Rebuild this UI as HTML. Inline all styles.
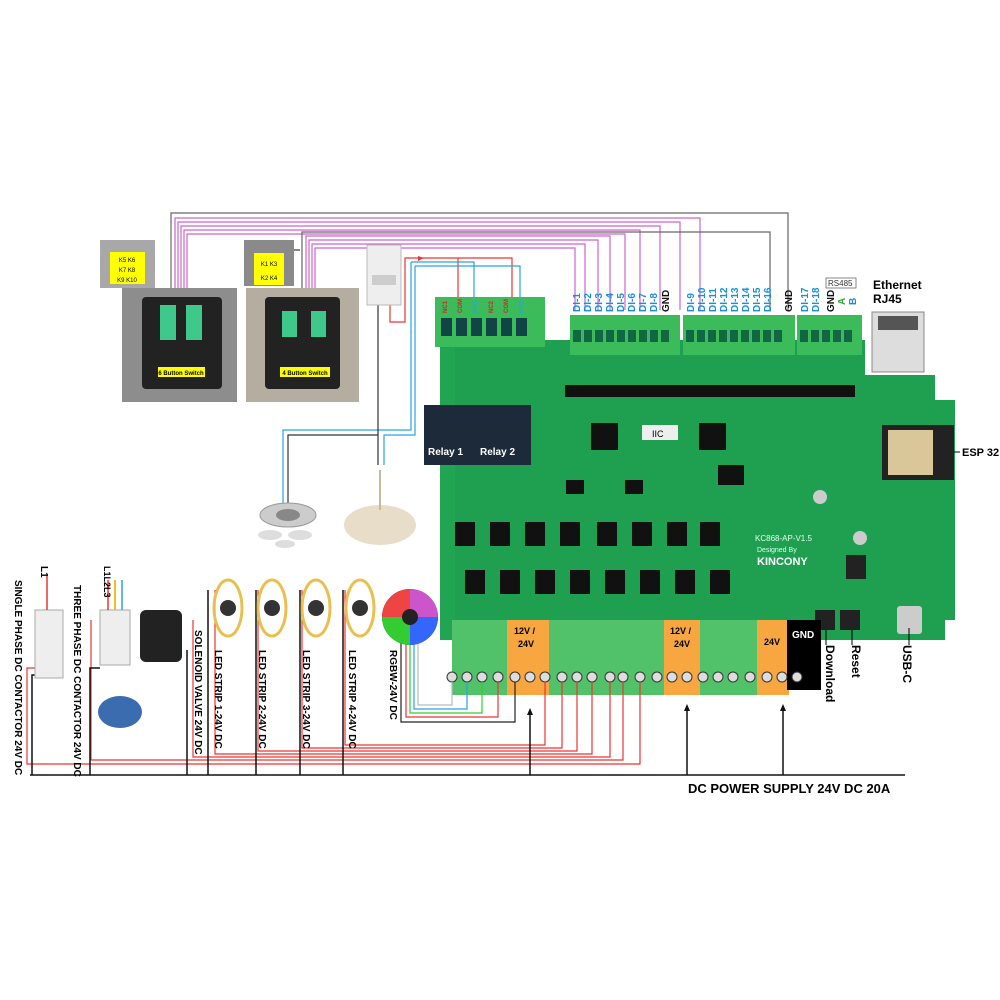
<!DOCTYPE html>
<html><head><meta charset="utf-8"><style>
html,body{margin:0;padding:0;background:#fff}
svg{display:block}
text{font-family:"Liberation Sans",sans-serif}
</style></head><body>
<svg width="1000" height="1000" viewBox="0 0 1000 1000" xmlns="http://www.w3.org/2000/svg">
<rect width="1000" height="1000" fill="#fff"/>

<!-- top wires from switches to DI -->
<g fill="none" stroke-width="1.2">
<path d="M171,345 V213 H788 V310" stroke="#666"/>
<path d="M175,345 V218 H700 V310" stroke="#cc66cc"/>
<path d="M178,345 V222 H680 V310" stroke="#cc66cc"/>
<path d="M181,345 V226 H660 V310" stroke="#cc66cc"/>
<path d="M184,345 V230 H640 V310" stroke="#cc66cc"/>
<path d="M187,345 V234 H625 V310" stroke="#cc66cc"/>
<path d="M302,330 V232 H770 V310" stroke="#666"/>
<path d="M306,330 V236 H610 V310" stroke="#cc66cc"/>
<path d="M309,330 V240 H598 V310" stroke="#cc66cc"/>
<path d="M312,330 V244 H585 V310" stroke="#cc66cc"/>
<path d="M315,330 V248 H575 V310" stroke="#cc66cc"/>
<path d="M285,250 H300" stroke="#333"/>
<!-- relay wires -->
<path d="M390,300 V322 H405 V258 H512 V300" stroke="#e33"/>
<path d="M458,258 V300" stroke="#e33"/>
<path d="M411,262 H474 V300" stroke="#29a3e0"/>
<path d="M411,262 V430 H283 V505" stroke="#29a3e0"/>
<path d="M415,266 H520 V300" stroke="#29a3e0"/>
<path d="M415,266 V435 H384 V465" stroke="#29a3e0"/>
<path d="M378,300 V465" stroke="#333"/>
<path d="M378,435 H288 V505" stroke="#333"/>
</g>
<polygon points="418,256 424,258 418,261" fill="#e33"/>

<!-- switches -->
<rect x="100" y="240" width="55" height="48" fill="#a8a8a8"/>
<rect x="110" y="252" width="35" height="32" fill="#ff0"/>
<text x="127" y="262" font-size="6" text-anchor="middle">K5 K6</text>
<text x="127" y="272" font-size="6" text-anchor="middle">K7 K8</text>
<text x="127" y="282" font-size="6" text-anchor="middle">K9 K10</text>
<rect x="122" y="288" width="115" height="114" fill="#8d8d8d"/>
<rect x="142" y="297" width="80" height="92" fill="#222" rx="4"/>
<rect x="160" y="305" width="16" height="35" fill="#3ec98a"/>
<rect x="186" y="305" width="16" height="35" fill="#3ec98a"/>
<rect x="158" y="367" width="47" height="10" fill="#ff0"/>
<text x="181" y="375" font-size="6" text-anchor="middle" font-weight="bold">6 Button Switch</text>

<rect x="244" y="240" width="50" height="46" fill="#8a8a8a"/>
<rect x="254" y="253" width="30" height="32" fill="#ff0"/>
<text x="269" y="266" font-size="6" text-anchor="middle">K1 K3</text>
<text x="269" y="280" font-size="6" text-anchor="middle">K2 K4</text>
<rect x="246" y="288" width="113" height="114" fill="#b5ada0"/>
<rect x="265" y="297" width="75" height="92" fill="#222" rx="4"/>
<rect x="282" y="311" width="15" height="26" fill="#3ec98a"/>
<rect x="311" y="311" width="15" height="26" fill="#3ec98a"/>
<rect x="280" y="367" width="50" height="10" fill="#ff0"/>
<text x="305" y="375" font-size="6" text-anchor="middle" font-weight="bold">4 Button Switch</text>

<!-- breaker -->
<rect x="367" y="245" width="34" height="60" fill="#eee" stroke="#bbb"/>
<rect x="372" y="275" width="24" height="10" fill="#ccc"/>

<!-- downlight / chandelier -->
<ellipse cx="288" cy="515" rx="28" ry="12" fill="#ccc" stroke="#999"/>
<ellipse cx="288" cy="515" rx="12" ry="6" fill="#888"/>
<ellipse cx="270" cy="535" rx="12" ry="5" fill="#ddd"/>
<ellipse cx="300" cy="535" rx="12" ry="5" fill="#ddd"/>
<ellipse cx="285" cy="544" rx="10" ry="4" fill="#ddd"/>
<ellipse cx="380" cy="525" rx="36" ry="20" fill="#e8ddc8"/>
<path d="M380,470 V510" stroke="#c9b89a" stroke-width="2"/>

<!-- board body -->
<path d="M455,340 H865 V375 H935 V400 H955 V620 H945 V640 H455 Z" fill="#1fa050"/>
<path d="M440,345 H455 V640 H440 Z" fill="#22a552"/>
<!-- relay terminal block -->
<rect x="435" y="297" width="110" height="50" fill="#3bbb5a"/>
<g fill="#144">
<rect x="441" y="318" width="11" height="18"/><rect x="456" y="318" width="11" height="18"/><rect x="471" y="318" width="11" height="18"/><rect x="486" y="318" width="11" height="18"/><rect x="501" y="318" width="11" height="18"/><rect x="516" y="318" width="11" height="18"/>
</g>
<!-- DI terminal blocks -->
<rect x="570" y="315" width="110" height="40" fill="#3bbb5a"/>
<rect x="683" y="315" width="112" height="40" fill="#3bbb5a"/>
<rect x="797" y="315" width="65" height="40" fill="#3bbb5a"/>
<g fill="#164" >
<rect x="573" y="330" width="8" height="12"/><rect x="584" y="330" width="8" height="12"/><rect x="595" y="330" width="8" height="12"/><rect x="606" y="330" width="8" height="12"/><rect x="617" y="330" width="8" height="12"/><rect x="628" y="330" width="8" height="12"/><rect x="639" y="330" width="8" height="12"/><rect x="650" y="330" width="8" height="12"/><rect x="661" y="330" width="8" height="12"/>
<rect x="686" y="330" width="8" height="12"/><rect x="697" y="330" width="8" height="12"/><rect x="708" y="330" width="8" height="12"/><rect x="719" y="330" width="8" height="12"/><rect x="730" y="330" width="8" height="12"/><rect x="741" y="330" width="8" height="12"/><rect x="752" y="330" width="8" height="12"/><rect x="763" y="330" width="8" height="12"/><rect x="774" y="330" width="8" height="12"/>
<rect x="800" y="330" width="8" height="12"/><rect x="811" y="330" width="8" height="12"/><rect x="822" y="330" width="8" height="12"/><rect x="833" y="330" width="8" height="12"/><rect x="844" y="330" width="8" height="12"/>
</g>
<!-- DI labels -->
<g font-size="10" fill="#1a8fd8" font-weight="bold">
<text transform="translate(580,312) rotate(-90)">DI-1</text>
<text transform="translate(591,312) rotate(-90)">DI-2</text>
<text transform="translate(602,312) rotate(-90)">DI-3</text>
<text transform="translate(613,312) rotate(-90)">DI-4</text>
<text transform="translate(624,312) rotate(-90)">DI-5</text>
<text transform="translate(635,312) rotate(-90)">DI-6</text>
<text transform="translate(646,312) rotate(-90)">DI-7</text>
<text transform="translate(657,312) rotate(-90)">DI-8</text>
<text transform="translate(694,312) rotate(-90)">DI-9</text>
<text transform="translate(705,312) rotate(-90)">DI-10</text>
<text transform="translate(716,312) rotate(-90)">DI-11</text>
<text transform="translate(727,312) rotate(-90)">DI-12</text>
<text transform="translate(738,312) rotate(-90)">DI-13</text>
<text transform="translate(749,312) rotate(-90)">DI-14</text>
<text transform="translate(760,312) rotate(-90)">DI-15</text>
<text transform="translate(771,312) rotate(-90)">DI-16</text>
<text transform="translate(808,312) rotate(-90)">DI-17</text>
<text transform="translate(819,312) rotate(-90)">DI-18</text>
<text transform="translate(856,305) rotate(-90)">B</text>
</g>
<text transform="translate(845,305) rotate(-90)" font-size="10" fill="#3a3" font-weight="bold">A</text>
<g font-size="10" fill="#111" font-weight="bold">
<text transform="translate(669,312) rotate(-90)">GND</text>
<text transform="translate(792,312) rotate(-90)">GND</text>
<text transform="translate(834,312) rotate(-90)">GND</text>
</g>
<rect x="826" y="278" width="30" height="10" fill="none" stroke="#555" stroke-width="0.7"/>
<text x="828" y="286" font-size="8" fill="#333">RS485</text>
<g font-size="6" fill="#d22" font-weight="bold">
<text transform="translate(447,313) rotate(-90)">NC1</text>
<text transform="translate(462,313) rotate(-90)">COM</text>
<text transform="translate(493,313) rotate(-90)">NC2</text>
<text transform="translate(508,313) rotate(-90)">COM</text>
</g>
<g font-size="6" fill="#29a3e0" font-weight="bold">
<text transform="translate(477,313) rotate(-90)">NO1</text>
<text transform="translate(523,313) rotate(-90)">NO2</text>
</g>

<!-- optocoupler rows -->
<g fill="#111">
<rect x="565" y="385" width="290" height="12"/>
</g>
<!-- ethernet -->
<rect x="872" y="312" width="52" height="60" fill="#ddd" stroke="#888"/>
<rect x="878" y="316" width="40" height="14" fill="#555"/>
<text x="873" y="289" font-size="12" font-weight="bold">Ethernet</text>
<text x="873" y="303" font-size="12" font-weight="bold">RJ45</text>
<!-- ESP32 -->
<rect x="882" y="425" width="72" height="55" fill="#222"/>
<rect x="888" y="430" width="45" height="45" fill="#d9c79a"/>
<path d="M954,452 H960" stroke="#000"/>
<text x="962" y="456" font-size="11" font-weight="bold">ESP 32</text>
<!-- relays -->
<rect x="424" y="405" width="52" height="60" fill="#1c2a3a"/>
<rect x="476" y="405" width="55" height="60" fill="#1c2a3a"/>
<text x="428" y="455" font-size="10" fill="#fff" font-weight="bold">Relay 1</text>
<text x="480" y="455" font-size="10" fill="#fff" font-weight="bold">Relay 2</text>
<!-- ICs -->
<rect x="591" y="423" width="27" height="27" fill="#111"/>
<rect x="699" y="423" width="27" height="27" fill="#111"/>
<rect x="642" y="425" width="36" height="15" fill="#eee"/>
<text x="652" y="437" font-size="9">IIC</text>
<rect x="718" y="465" width="26" height="20" fill="#111"/>
<rect x="566" y="480" width="18" height="14" fill="#111"/>
<rect x="625" y="480" width="18" height="14" fill="#111"/>
<circle cx="820" cy="497" r="7" fill="#ccc"/>
<rect x="846" y="555" width="20" height="24" fill="#222"/>
<circle cx="860" cy="538" r="7" fill="#ccc"/>
<text x="755" y="541" font-size="8" fill="#dfe">KC868-AP-V1.5</text>
<text x="757" y="552" font-size="7" fill="#dfe">Designed By</text>
<text x="757" y="565" font-size="11" fill="#fff" font-weight="bold">KINCONY</text>
<!-- mosfets -->
<g fill="#111">
<rect x="455" y="522" width="20" height="24"/><rect x="490" y="522" width="20" height="24"/><rect x="525" y="522" width="20" height="24"/><rect x="560" y="522" width="20" height="24"/><rect x="597" y="522" width="20" height="24"/><rect x="632" y="522" width="20" height="24"/><rect x="667" y="522" width="20" height="24"/><rect x="700" y="522" width="20" height="24"/>
<rect x="465" y="570" width="20" height="24"/><rect x="500" y="570" width="20" height="24"/><rect x="535" y="570" width="20" height="24"/><rect x="570" y="570" width="20" height="24"/><rect x="605" y="570" width="20" height="24"/><rect x="640" y="570" width="20" height="24"/><rect x="675" y="570" width="20" height="24"/><rect x="710" y="570" width="20" height="24"/>
</g>
<!-- USB & buttons -->
<rect x="897" y="606" width="25" height="28" fill="#ccc" rx="3"/>
<rect x="815" y="610" width="20" height="20" fill="#222"/>
<rect x="840" y="610" width="20" height="20" fill="#222"/>

<!-- bottom terminal -->
<rect x="452" y="620" width="335" height="75" fill="#52c26a"/>
<rect x="507" y="620" width="42" height="75" fill="#f7a640"/>
<rect x="664" y="620" width="36" height="75" fill="#f7a640"/>
<rect x="757" y="620" width="32" height="75" fill="#f7a640"/>
<rect x="787" y="620" width="34" height="70" fill="#000"/>
<text x="514" y="634" font-size="9" font-weight="bold">12V /</text>
<text x="518" y="647" font-size="9" font-weight="bold">24V</text>
<text x="670" y="634" font-size="9" font-weight="bold">12V /</text>
<text x="674" y="647" font-size="9" font-weight="bold">24V</text>
<text x="764" y="645" font-size="9" font-weight="bold">24V</text>
<text x="792" y="638" font-size="10" fill="#fff" font-weight="bold">GND</text>
<g fill="#ddd" stroke="#333" stroke-width="1">
<circle cx="452" cy="677" r="5"/><circle cx="467" cy="677" r="5"/><circle cx="482" cy="677" r="5"/><circle cx="498" cy="677" r="5"/><circle cx="515" cy="677" r="5"/><circle cx="530" cy="677" r="5"/><circle cx="545" cy="677" r="5"/><circle cx="562" cy="677" r="5"/><circle cx="577" cy="677" r="5"/><circle cx="592" cy="677" r="5"/><circle cx="610" cy="677" r="5"/><circle cx="623" cy="677" r="5"/><circle cx="640" cy="677" r="5"/><circle cx="657" cy="677" r="5"/><circle cx="672" cy="677" r="5"/><circle cx="687" cy="677" r="5"/><circle cx="703" cy="677" r="5"/><circle cx="718" cy="677" r="5"/><circle cx="733" cy="677" r="5"/><circle cx="750" cy="677" r="5"/><circle cx="767" cy="677" r="5"/><circle cx="782" cy="677" r="5"/><circle cx="797" cy="677" r="5"/>
</g>
<g font-size="12" font-weight="bold">
<text transform="translate(826,645) rotate(90)">Download</text>
<text transform="translate(852,645) rotate(90)">Reset</text>
<text transform="translate(903,645) rotate(90)">USB-C</text>
</g>
<path d="M826,630 V645 M852,630 V645 M909,628 V645" stroke="#000"/>

<!-- RGBW wires -->
<g fill="none" stroke-width="1.2">
<path d="M452,682 V705 H418 V620" stroke="#bbb"/>
<path d="M467,682 V709 H414 V620" stroke="#29a3e0"/>
<path d="M482,682 V713 H410 V620" stroke="#3c3"/>
<path d="M498,682 V717 H406 V620" stroke="#e33"/>
<path d="M515,682 V722 H401 V620" stroke="#222"/>
</g>
<!-- load wires red -->
<g fill="none" stroke="#e33" stroke-width="1.2">
<path d="M545,682 V745 H345 V590"/>
<path d="M562,682 V748 H302 V590"/>
<path d="M577,682 V751 H258 V590"/>
<path d="M592,682 V754 H215 V590"/>
<path d="M610,682 V757 H193 V620"/>
<path d="M623,682 V760 H91 V620"/>
<path d="M640,682 V764 H27 V668 H37"/>
</g>
<!-- power bus -->
<g fill="none" stroke="#111" stroke-width="1.5">
<path d="M30,775 H905"/>
<path d="M530,775 V712 M687,775 V708 M783,775 V708"/>
<path d="M32,775 V675 H40 M90,775 V668 H100 M187,775 V650 M208,775 V590 M256,775 V590 M300,775 V590 M343,775 V590"/>
</g>
<polygon points="530,708 527,715 533,715" fill="#111"/>
<polygon points="687,704 684,711 690,711" fill="#111"/>
<polygon points="783,704 780,711 786,711" fill="#111"/>
<text x="688" y="793" font-size="13" font-weight="bold">DC POWER SUPPLY 24V DC 20A</text>

<!-- bottom-left devices -->
<rect x="35" y="610" width="28" height="68" fill="#eee" stroke="#aaa"/>
<path d="M47,575 V610" stroke="#e33" stroke-width="1.5"/>
<text transform="translate(41,566) rotate(90)" font-size="10" font-weight="bold">L1</text>
<rect x="100" y="610" width="30" height="55" fill="#eee" stroke="#aaa"/>
<path d="M108,580 V610 M115,580 V610" stroke="#e33" stroke-width="1.5"/><path d="M115,580 V610" stroke="#ec0" stroke-width="1.5"/><path d="M122,580 V610" stroke="#29a3e0" stroke-width="1.5"/>
<text transform="translate(104,566) rotate(90)" font-size="9" font-weight="bold">L1L2L3</text>
<ellipse cx="120" cy="712" rx="22" ry="16" fill="#3c6cb0"/>
<rect x="140" y="610" width="42" height="52" fill="#222" rx="6"/>
<g fill="none" stroke="#e8c050" stroke-width="3">
<ellipse cx="228" cy="608" rx="14" ry="28"/>
<ellipse cx="272" cy="608" rx="14" ry="28"/>
<ellipse cx="316" cy="608" rx="14" ry="28"/>
<ellipse cx="360" cy="608" rx="14" ry="28"/>
</g>
<g fill="#333"><circle cx="228" cy="608" r="8"/><circle cx="272" cy="608" r="8"/><circle cx="316" cy="608" r="8"/><circle cx="360" cy="608" r="8"/></g>
<circle cx="410" cy="617" r="28" fill="#222"/>
<path d="M410,589 A28,28 0 0 1 438,617 L410,617Z" fill="#c5c"/>
<path d="M382,617 A28,28 0 0 1 410,589 L410,617Z" fill="#e44"/>
<path d="M410,645 A28,28 0 0 1 382,617 L410,617Z" fill="#3c3"/>
<path d="M438,617 A28,28 0 0 1 410,645 L410,617Z" fill="#36f"/>
<circle cx="410" cy="617" r="8" fill="#222"/>
<g font-size="10" font-weight="bold">
<text transform="translate(15,580) rotate(90)">SINGLE PHASE DC CONTACTOR 24V DC</text>
<text transform="translate(74,585) rotate(90)">THREE PHASE DC CONTACTOR 24V DC</text>
<text transform="translate(195,630) rotate(90)">SOLENOID VALVE 24V DC</text>
<text transform="translate(215,650) rotate(90)">LED STRIP 1-24V DC</text>
<text transform="translate(259,650) rotate(90)">LED STRIP 2-24V DC</text>
<text transform="translate(303,650) rotate(90)">LED STRIP 3-24V DC</text>
<text transform="translate(349,650) rotate(90)">LED STRIP 4-24V DC</text>
<text transform="translate(390,650) rotate(90)">RGBW-24V DC</text>
</g>
</svg>
</body></html>
